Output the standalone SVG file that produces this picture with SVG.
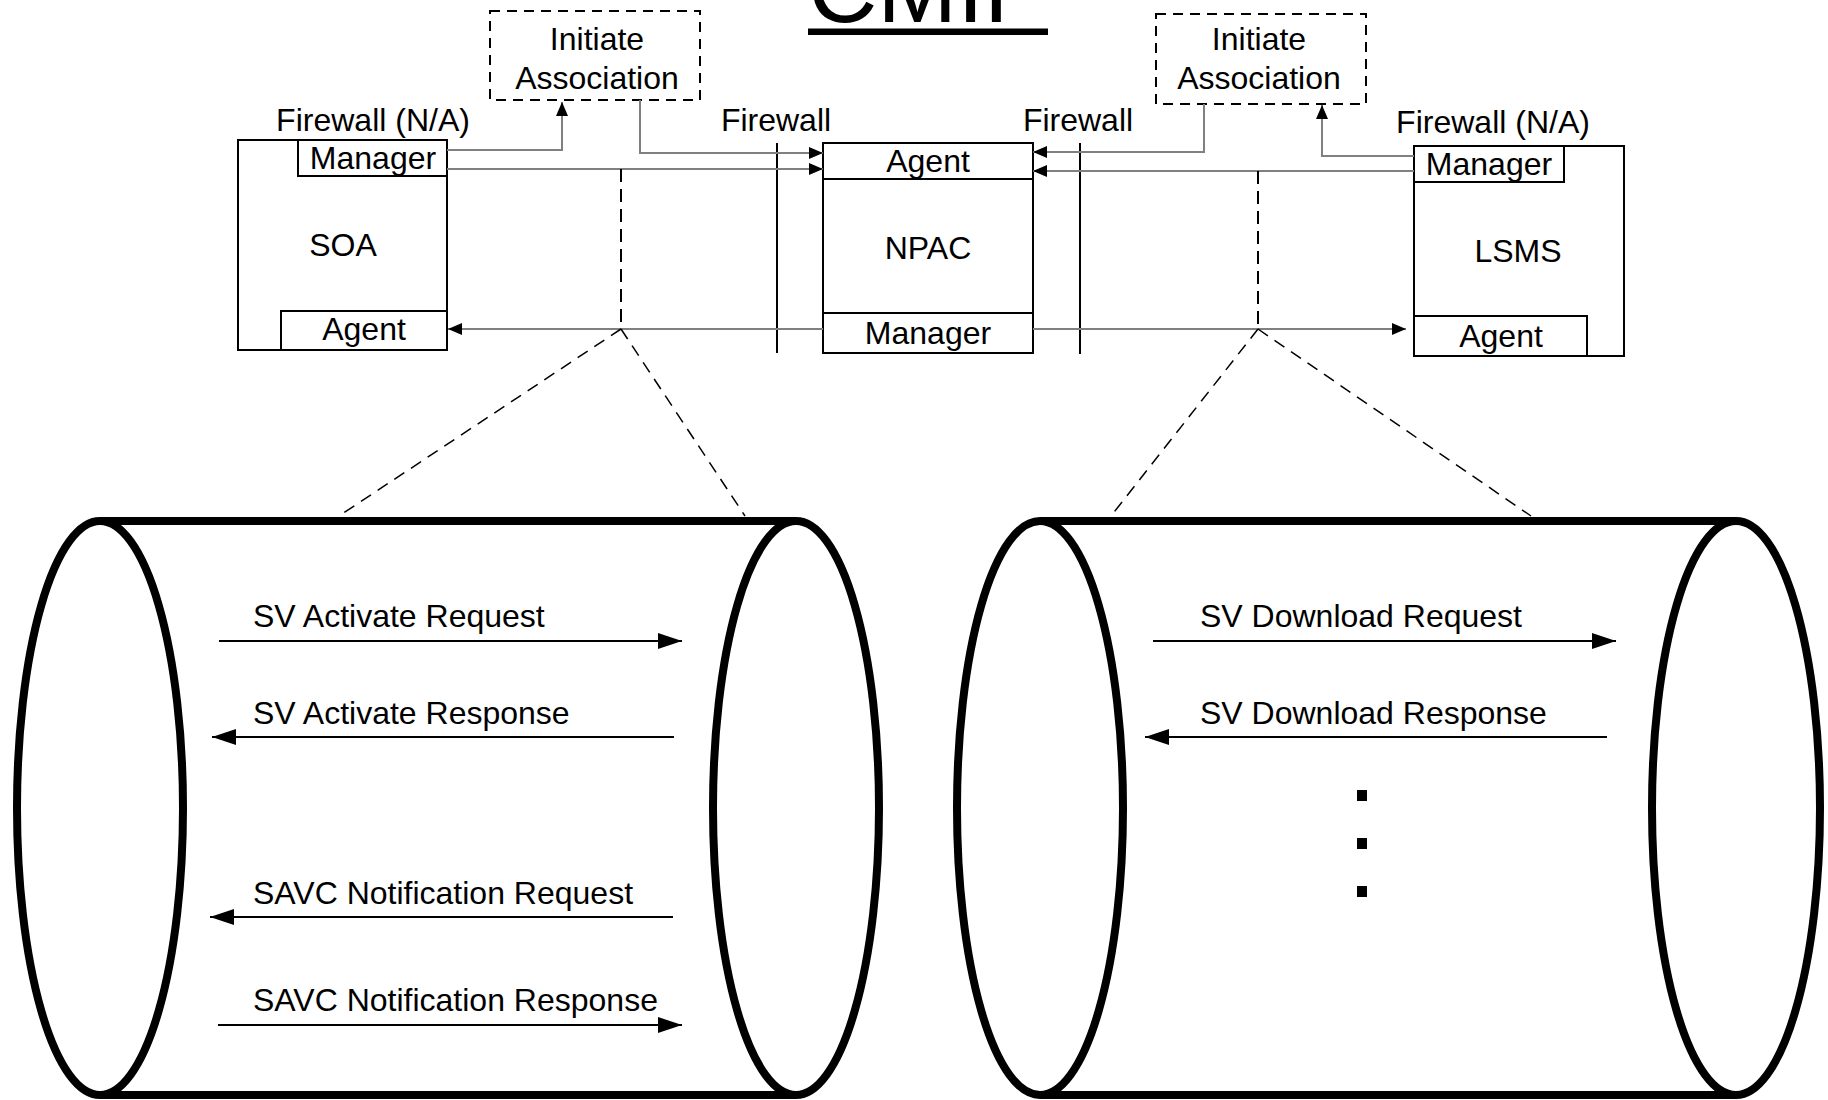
<svg xmlns="http://www.w3.org/2000/svg" width="1828" height="1100" viewBox="0 0 1828 1100">
<defs>
<style>
text{font-family:"Liberation Sans",Arial,sans-serif;font-size:32px;fill:#000}
.c{text-anchor:middle}
.box{fill:#fff;stroke:#000;stroke-width:2}
.dbox{fill:#fff;stroke:#000;stroke-width:2;stroke-dasharray:10 7}
.conn{fill:none;stroke:#808080;stroke-width:2}
.dash{fill:none;stroke:#000;stroke-width:2;stroke-dasharray:13 7}
.dashd{fill:none;stroke:#000;stroke-width:1.5;stroke-dasharray:12 8}
.fw{stroke:#000;stroke-width:2}
.cyl{fill:#fff;stroke:#000;stroke-width:8}
.msg{fill:none;stroke:#000;stroke-width:2}
</style>
<marker id="ah" markerUnits="userSpaceOnUse" markerWidth="14" markerHeight="12" refX="14" refY="6" orient="auto"><path d="M0,0 L14,6 L0,12 Z" fill="#000"/></marker>
<marker id="ahm" markerUnits="userSpaceOnUse" markerWidth="24" markerHeight="16" refX="24" refY="8" orient="auto"><path d="M0,0 L24,8 L0,16 Z" fill="#000"/></marker>
</defs>
<rect width="1828" height="1100" fill="#fff"/>

<g id="title">
<text x="928" y="22" class="c" style="font-size:96px">CMIP</text>
<rect x="808" y="28.5" width="240" height="6.5" fill="#000"/>
</g>

<g id="firewalls">
<line class="fw" x1="777" y1="143" x2="777" y2="353"/>
<line class="fw" x1="1080" y1="143" x2="1080" y2="354"/>
<text x="373" y="130.5" class="c">Firewall (N/A)</text>
<text x="776" y="130.5" class="c">Firewall</text>
<text x="1078" y="130.5" class="c">Firewall</text>
<text x="1493" y="132.5" class="c">Firewall (N/A)</text>
</g>

<g id="init-left">
<rect class="dbox" x="490" y="11" width="210" height="89"/>
<text x="597" y="50" class="c">Initiate</text>
<text x="597" y="88.5" class="c">Association</text>
</g>

<g id="init-right">
<rect class="dbox" x="1156" y="14" width="210" height="90"/>
<text x="1259" y="50" class="c">Initiate</text>
<text x="1259" y="88.5" class="c">Association</text>
</g>

<g id="soa">
<rect class="box" x="238" y="140" width="209" height="210"/>
<rect class="box" x="298" y="140" width="149" height="36"/>
<rect class="box" x="281" y="311" width="166" height="39"/>
<text x="373" y="168.5" class="c">Manager</text>
<text x="343" y="255.5" class="c">SOA</text>
<text x="364" y="340" class="c">Agent</text>
</g>

<g id="npac">
<rect class="box" x="823" y="143" width="210" height="210"/>
<line class="fw" x1="823" y1="179" x2="1033" y2="179"/>
<line class="fw" x1="823" y1="313" x2="1033" y2="313"/>
<text x="928" y="171.5" class="c">Agent</text>
<text x="928" y="258.5" class="c">NPAC</text>
<text x="928" y="343.5" class="c">Manager</text>
</g>

<g id="lsms">
<rect class="box" x="1414" y="146" width="210" height="210"/>
<rect class="box" x="1414" y="146" width="150" height="36"/>
<rect class="box" x="1414" y="316" width="173" height="40"/>
<text x="1489" y="174.5" class="c">Manager</text>
<text x="1518" y="261.5" class="c">LSMS</text>
<text x="1501" y="346.5" class="c">Agent</text>
</g>

<g id="connectors">
<path class="conn" d="M447,150 H562 V102" marker-end="url(#ah)"/>
<path class="conn" d="M640,100 V153 H823" marker-end="url(#ah)"/>
<path class="conn" d="M447,169 H823" marker-end="url(#ah)"/>
<path class="conn" d="M823,329 H448" marker-end="url(#ah)"/>
<path class="conn" d="M1204,104 V152 H1033" marker-end="url(#ah)"/>
<path class="conn" d="M1414,171 H1033" marker-end="url(#ah)"/>
<path class="conn" d="M1414,156 H1322 V105" marker-end="url(#ah)"/>
<path class="conn" d="M1033,329 H1406" marker-end="url(#ah)"/>
<path class="dash" d="M621,169 V329"/>
<path class="dash" d="M1258,171 V329"/>
<path class="dashd" d="M621,329 L339,516 M621,329 L745,516"/>
<path class="dashd" d="M1258,329 L1111,516 M1258,329 L1531,516"/>
</g>

<g id="pipe-left">
<line class="cyl" x1="100" y1="521" x2="796" y2="521"/>
<line class="cyl" x1="100" y1="1095" x2="796" y2="1095"/>
<ellipse class="cyl" cx="100" cy="808" rx="83" ry="287"/>
<ellipse class="cyl" cx="796" cy="808" rx="83" ry="287"/>
<text x="253" y="627">SV Activate Request</text>
<path class="msg" d="M219,641 H682" marker-end="url(#ahm)"/>
<text x="253" y="723.5">SV Activate Response</text>
<path class="msg" d="M674,737 H212" marker-end="url(#ahm)"/>
<text x="253" y="904">SAVC Notification Request</text>
<path class="msg" d="M673,917 H210" marker-end="url(#ahm)"/>
<text x="253" y="1011">SAVC Notification Response</text>
<path class="msg" d="M218,1025 H682" marker-end="url(#ahm)"/>
</g>

<g id="pipe-right">
<line class="cyl" x1="1040" y1="521" x2="1736" y2="521"/>
<line class="cyl" x1="1040" y1="1095" x2="1736" y2="1095"/>
<ellipse class="cyl" cx="1040" cy="808" rx="83" ry="287"/>
<ellipse class="cyl" cx="1736" cy="808" rx="84" ry="287"/>
<text x="1200" y="627">SV Download Request</text>
<path class="msg" d="M1153,641 H1616" marker-end="url(#ahm)"/>
<text x="1200" y="723.5">SV Download Response</text>
<path class="msg" d="M1607,737 H1145" marker-end="url(#ahm)"/>
<rect x="1357" y="790" width="10" height="11" fill="#000"/>
<rect x="1357" y="838" width="10" height="11" fill="#000"/>
<rect x="1357" y="886" width="10" height="11" fill="#000"/>
</g>
</svg>
